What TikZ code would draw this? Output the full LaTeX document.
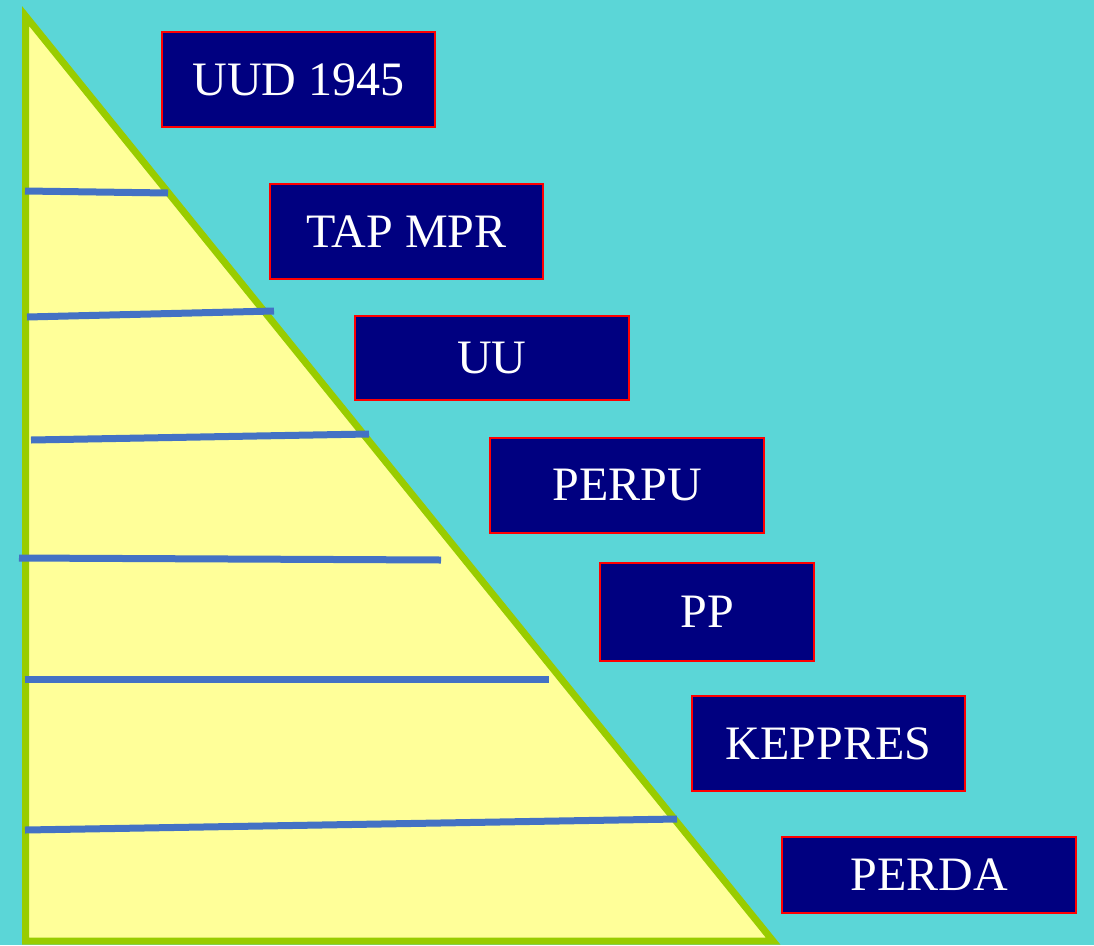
\documentclass[tikz,border=0pt]{standalone}
\usepackage{fontspec}
\setmainfont{Liberation Serif}
\definecolor{sea}{HTML}{5BD6D7}
\definecolor{sand}{HTML}{FFFF99}
\definecolor{leaf}{HTML}{99CC00}
\definecolor{rule}{HTML}{4472C4}
\definecolor{navy}{HTML}{000080}
\definecolor{edge}{HTML}{FF0000}
\tikzset{
  lawbox/.style={draw=edge, line width=2pt, fill=navy, text=white, inner sep=0pt,
    font=\fontsize{48}{56}\selectfont},
  tier/.style={draw=rule, line width=7pt},
  pyramid/.style={draw=leaf, fill=sand, line width=7pt, line join=miter}
}
\begin{document}
\begin{tikzpicture}[x=1pt,y=-1pt]
  % background
  \fill[sea] (0,0) rectangle (1094,945);
  \useasboundingbox (0,0) rectangle (1094,945);

  % the hierarchy triangle
  \coordinate (apex) at (25.5,16);
  \coordinate (base) at (25.5,941);
  \coordinate (corner) at (773,941);
  \draw[pyramid] (apex) -- (base) -- (corner) -- cycle;

  % dividing lines between the levels
  \coordinate (l1a) at (25,191);  \coordinate (l1b) at (168,193);
  \coordinate (l2a) at (27,317);  \coordinate (l2b) at (274,311);
  \coordinate (l3a) at (31,440);  \coordinate (l3b) at (369,434);
  \coordinate (l4a) at (19,558);  \coordinate (l4b) at (441,560);
  \coordinate (l5a) at (25,679);  \coordinate (l5b) at (549,679);
  \coordinate (l6a) at (25,830);  \coordinate (l6b) at (677,819);
  \foreach \i in {1,...,6} \draw[tier] (l\i a) -- (l\i b);

  % labels of the levels
  \node[lawbox, minimum width=273pt, minimum height=95pt] (uud)  at (298.5,79.5) {UUD 1945};
  \node[lawbox, minimum width=273pt, minimum height=95pt] (tap)  at (406.5,231.5) {TAP MPR};
  \node[lawbox, minimum width=274pt, minimum height=84pt] (uu)   at (492,358) {UU};
  \node[lawbox, minimum width=274pt, minimum height=95pt] (perpu) at (627,485.5) {PERPU};
  \node[lawbox, minimum width=214pt, minimum height=98pt] (pp)   at (707,612) {PP};
  \node[lawbox, minimum width=273pt, minimum height=95pt] (keppres) at (828.5,743.5) {KEPPRES};
  \node[lawbox, minimum width=294pt, minimum height=76pt] (perda) at (929,875) {PERDA};
\end{tikzpicture}
\end{document}
